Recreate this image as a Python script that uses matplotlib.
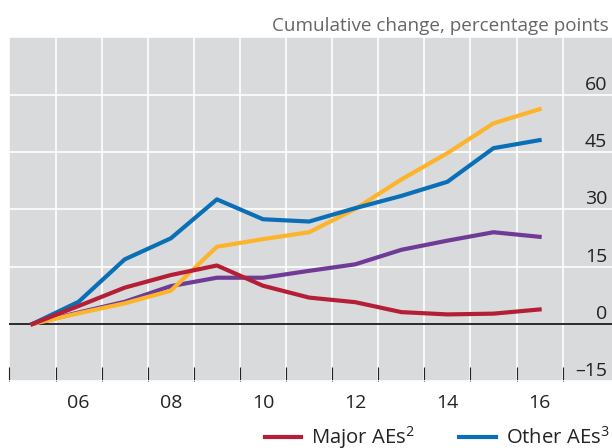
import numpy as np
import matplotlib
matplotlib.use('Agg')
import matplotlib.pyplot as plt
from matplotlib.lines import Line2D
from matplotlib.transforms import offset_copy

plt.rcParams['font.family'] = ['Open Sans', 'DejaVu Sans']
plt.rcParams['mathtext.fontset'] = 'custom'
plt.rcParams['mathtext.rm'] = 'Open Sans'

# cumulative change since 2005, percentage points
years = np.arange(2005, 2017)
major_aes = [0, 4.7, 9.5, 12.8, 15.3, 10.0, 6.9, 5.7, 3.1, 2.5, 2.7, 3.8]
other_aes = [0, 5.8, 16.9, 22.4, 32.6, 27.4, 26.8, 30.3, 33.5, 37.2, 46.0, 48.1]
yellow_series = [0, 2.8, 5.4, 8.7, 20.2, 22.2, 24.0, 30.1, 37.8, 44.7, 52.5, 56.2]
purple_series = [0, 3.0, 5.8, 9.9, 12.1, 12.1, 13.9, 15.6, 19.4, 21.8, 24.0, 22.8]

year_ticks = [2006, 2008, 2010, 2012, 2014, 2016]
year_labels = ['06', '08', '10', '12', '14', '16']
y_ticks = [-15, 0, 15, 30, 45, 60]

red = '#b41f37'
blue = '#0a6fb7'
yellow = '#fdb42b'
purple = '#6f3b96'

fig = plt.figure(figsize=(6.12, 4.48), dpi=100)
ax = fig.add_axes([0.0154, 0.1489, 0.9846, 0.7678])
ax.set_facecolor('#d9dadc')
for s in ax.spines.values():
    s.set_visible(False)

ax.set_xlim(2004.5, 2017.57)
ax.set_ylim(-15, 75)

# grid on year boundaries
ax.set_xticks(np.arange(2004.5, 2017, 1), minor=True)
ax.set_xticks(year_ticks)
ax.set_xticklabels(year_labels)
ax.set_yticks(np.arange(-15, 76, 15))
ax.set_yticklabels([])
ax.grid(True, which='minor', axis='x', color='white', lw=1.2)
ax.grid(True, which='major', axis='y', color='white', lw=1.2)
ax.set_axisbelow(True)
ax.tick_params(axis='x', which='major', length=0, pad=9, labelsize=14, labelcolor='#222222')
ax.tick_params(axis='x', which='minor', direction='in', length=10, width=0.8, color='#222222')
ax.tick_params(axis='y', length=0)

ax.axhline(0, color='#1a1a1a', lw=1.3, zorder=2)

ax.plot(years, purple_series, color=purple, lw=3, zorder=3)
ax.plot(years, yellow_series, color=yellow, lw=3, zorder=4)
ax.plot(years, other_aes, color=blue, lw=3, zorder=5)
ax.plot(years, major_aes, color=red, lw=3, zorder=6)

trans = offset_copy(ax.get_yaxis_transform(), fig=fig, x=-3.6, y=3.6, units='points')
for v in y_ticks:
    lab = str(v) if v >= 0 else '\u2013' + str(-v)
    ax.text(1.0, v, lab, transform=trans, ha='right', va='baseline',
            fontsize=14, color='#222222')

fig.text(0.995, 0.943, 'Cumulative change, percentage points', ha='right', va='center',
         fontsize=13.6, color='#666666')

handles = [Line2D([], [], color=red, lw=3), Line2D([], [], color=blue, lw=3)]
fig.legend(handles, [r'Major AEs$^2$', r'Other AEs$^3$'], loc='center right',
           bbox_to_anchor=(0.996, 1 - 438 / 448), ncol=2, frameon=False, fontsize=14.6,
           handlelength=1.8, handletextpad=0.5, columnspacing=2.2,
           borderpad=0, borderaxespad=0, labelcolor='#222222')

fig.savefig('out.png', dpi=100)
